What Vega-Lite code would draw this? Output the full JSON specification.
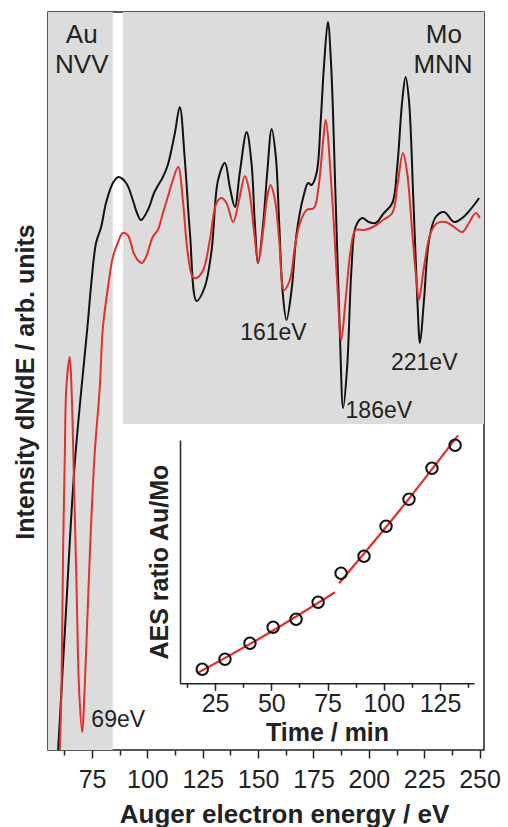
{
  "$schema": "https://vega.github.io/schema/vega-lite/v6.json",
  "width": 436,
  "height": 738,
  "autosize": "none",
  "padding": {"left": 48, "top": 12, "right": 24, "bottom": 77},
  "config": {
    "view": {"stroke": "#222", "strokeWidth": 1.5},
    "font": "Liberation Sans"
  },
  "datasets": {
    "regions": [
      {"e": 55.1, "e2": 84.35, "v": 0, "v2": 738},
      {"e": 88.9, "e2": 252, "v": 326, "v2": 738}
    ],
    "black": [
      {"e":59.6,"v":-3},{"e":63.0,"v":130},{"e":67.2,"v":287},{"e":73.2,"v":430},{"e":74.5,"v":463},{"e":76.8,"v":507},{"e":79.1,"v":523},{"e":81.3,"v":547},{"e":84.4,"v":567},{"e":86.9,"v":573},{"e":90.4,"v":567},{"e":93.4,"v":550},{"e":95.3,"v":537},{"e":97.1,"v":530},{"e":100.2,"v":540},{"e":103.2,"v":558},{"e":107.0,"v":573},{"e":109.2,"v":585},{"e":112.4,"v":617},{"e":114.6,"v":643},{"e":116.9,"v":590},{"e":119.2,"v":517},{"e":122.2,"v":449},{"e":125.9,"v":463},{"e":129.0,"v":500},{"e":131.9,"v":570},{"e":135.0,"v":587},{"e":137.2,"v":563},{"e":139.5,"v":543},{"e":141.7,"v":577},{"e":144.8,"v":618},{"e":147.0,"v":587},{"e":148.5,"v":527},{"e":150.0,"v":487},{"e":152.3,"v":527},{"e":154.1,"v":577},{"e":156.1,"v":621},{"e":158.0,"v":593},{"e":159.5,"v":527},{"e":161.0,"v":460},{"e":162.8,"v":430},{"e":165.1,"v":460},{"e":167.4,"v":517},{"e":170.4,"v":553},{"e":172.6,"v":567},{"e":174.1,"v":565},{"e":176.4,"v":577},{"e":178.2,"v":627},{"e":179.7,"v":683},{"e":181.5,"v":728},{"e":183.0,"v":683},{"e":185.0,"v":550},{"e":186.9,"v":417},{"e":188.4,"v":342},{"e":190.2,"v":383},{"e":192.2,"v":483},{"e":194.0,"v":523},{"e":197.0,"v":532},{"e":200.0,"v":528},{"e":203.1,"v":527},{"e":206.8,"v":537},{"e":210.6,"v":547},{"e":212.8,"v":583},{"e":215.1,"v":650},{"e":216.6,"v":673},{"e":218.1,"v":650},{"e":220.1,"v":550},{"e":221.9,"v":450},{"e":223.1,"v":407},{"e":224.9,"v":450},{"e":227.2,"v":510},{"e":230.2,"v":533},{"e":234.0,"v":538},{"e":238.5,"v":528},{"e":242.2,"v":532},{"e":244.5,"v":537},{"e":247.5,"v":545},{"e":249.8,"v":552}
    ],
    "red": [
      {"e":60.4,"v":-3},{"e":61.2,"v":63},{"e":61.9,"v":197},{"e":62.7,"v":297},{"e":63.4,"v":363},{"e":64.9,"v":393},{"e":65.7,"v":363},{"e":66.9,"v":263},{"e":68.0,"v":163},{"e":69.1,"v":63},{"e":70.5,"v":18},{"e":71.7,"v":63},{"e":74.0,"v":197},{"e":76.2,"v":297},{"e":78.5,"v":363},{"e":79.8,"v":420},{"e":82.2,"v":463},{"e":84.4,"v":493},{"e":86.6,"v":507},{"e":88.9,"v":517},{"e":91.1,"v":515},{"e":93.8,"v":497},{"e":95.6,"v":490},{"e":97.5,"v":487},{"e":99.4,"v":493},{"e":102.4,"v":513},{"e":104.7,"v":520},{"e":107.0,"v":537},{"e":109.2,"v":553},{"e":111.5,"v":570},{"e":113.9,"v":583},{"e":116.0,"v":550},{"e":118.2,"v":497},{"e":120.5,"v":473},{"e":122.2,"v":472},{"e":125.2,"v":480},{"e":128.2,"v":510},{"e":131.2,"v":547},{"e":133.5,"v":552},{"e":135.7,"v":547},{"e":138.7,"v":528},{"e":141.4,"v":550},{"e":144.0,"v":574},{"e":145.9,"v":560},{"e":148.1,"v":520},{"e":150.0,"v":488},{"e":152.3,"v":520},{"e":154.1,"v":553},{"e":155.6,"v":565},{"e":157.6,"v":550},{"e":159.5,"v":510},{"e":161.7,"v":460},{"e":164.3,"v":470},{"e":166.6,"v":503},{"e":168.9,"v":527},{"e":171.9,"v":540},{"e":175.2,"v":542},{"e":177.1,"v":560},{"e":179.4,"v":610},{"e":180.5,"v":630},{"e":183.5,"v":550},{"e":185.7,"v":467},{"e":187.5,"v":410},{"e":189.5,"v":450},{"e":191.8,"v":500},{"e":194.0,"v":520},{"e":197.8,"v":520},{"e":201.9,"v":523},{"e":206.4,"v":530},{"e":210.6,"v":537},{"e":212.8,"v":563},{"e":215.4,"v":597},{"e":217.3,"v":577},{"e":219.6,"v":517},{"e":221.6,"v":467},{"e":222.6,"v":450},{"e":224.9,"v":483},{"e":227.9,"v":517},{"e":230.9,"v":527},{"e":234.7,"v":528},{"e":238.5,"v":523},{"e":242.2,"v":518},{"e":245.2,"v":527},{"e":248.3,"v":537},{"e":250.1,"v":532}
    ],
    "regionLabels": [
      {"label": "Au", "e": 70.35, "v": 707},
      {"label": "NVV", "e": 70.35, "v": 677},
      {"label": "Mo", "e": 233.9, "v": 707},
      {"label": "MNN", "e": 233.5, "v": 677}
    ],
    "peakLabels": [
      {"label": "161eV", "e": 156.9, "v": 410},
      {"label": "186eV", "e": 204.5, "v": 332},
      {"label": "221eV", "e": 225.0, "v": 380},
      {"label": "69eV", "e": 86.8, "v": 23}
    ],
    "ratio": [
      {"t": 19.3, "r": 14}, {"t": 29.4, "r": 24}, {"t": 40.5, "r": 40}, {"t": 50.8, "r": 56},
      {"t": 61.0, "r": 64}, {"t": 70.8, "r": 81}, {"t": 81.0, "r": 110}, {"t": 91.2, "r": 127},
      {"t": 101.0, "r": 157}, {"t": 111.2, "r": 184}, {"t": 121.4, "r": 215}, {"t": 131.7, "r": 238}
    ],
    "fit": [
      {"t": 17, "r": 10, "seg": "a"}, {"t": 48, "r": 49, "seg": "a"}, {"t": 78.3, "r": 91, "seg": "a"},
      {"t": 80.1, "r": 100, "seg": "b"}, {"t": 106, "r": 170, "seg": "b"}, {"t": 133, "r": 248, "seg": "b"}
    ]
  },
  "layer": [
    {
      "layer": [
        {
          "data": {"name": "regions"},
          "mark": {"type": "rect", "color": "#dcdcdc"},
          "encoding": {
            "x": {
              "field": "e", "type": "quantitative",
              "title": "Auger electron energy / eV",
              "scale": {"domain": [55.1, 252], "nice": false, "zero": false},
              "axis": {
                "title": "Auger electron energy / eV",
                "values": [75, 100, 125, 150, 175, 200, 225, 250],
                "domain": false, "grid": false,
                "tickColor": "#222", "tickWidth": 1.5, "tickSize": 8,
                "labelFontSize": 25, "labelColor": "#222", "labelBaseline": "alphabetic",
                "labelPadding": 29, "labelOverlap": false, "labelFlush": false,
                "titleFontSize": 26, "titleFontWeight": "bold", "titleColor": "#222",
                "titleX": 236, "titleY": 72, "titleBaseline": "alphabetic", "titleAlign": "center"
              }
            },
            "x2": {"field": "e2"},
            "y": {
              "field": "v", "type": "quantitative",
              "title": "Intensity dN/dE / arb. units",
              "scale": {"domain": [0, 738], "nice": false, "zero": false},
              "axis": {
                "title": "Intensity dN/dE / arb. units",
                "labels": false, "ticks": false, "domain": false, "grid": false,
                "titleFontSize": 25, "titleFontWeight": "bold", "titleColor": "#222",
                "titleX": -15, "titleY": 369.5, "titleAngle": -90,
                "titleBaseline": "alphabetic", "titleAlign": "center"
              }
            },
            "y2": {"field": "v2"}
          }
        },
        {
          "data": {"name": "black"},
          "mark": {"type": "line", "color": "#111", "strokeWidth": 2, "interpolate": "catmull-rom", "clip": true},
          "encoding": {
            "x": {"field": "e", "type": "quantitative", "title": "Auger electron energy / eV"},
            "y": {"field": "v", "type": "quantitative", "title": "Intensity dN/dE / arb. units"}
          }
        },
        {
          "data": {"name": "red"},
          "mark": {"type": "line", "color": "#e0312b", "strokeWidth": 2, "interpolate": "catmull-rom", "clip": true},
          "encoding": {
            "x": {"field": "e", "type": "quantitative", "title": "Auger electron energy / eV"},
            "y": {"field": "v", "type": "quantitative", "title": "Intensity dN/dE / arb. units"}
          }
        },
        {
          "data": {"name": "regionLabels"},
          "mark": {"type": "text", "fontSize": 26, "color": "#222", "align": "center", "baseline": "alphabetic"},
          "encoding": {
            "x": {"field": "e", "type": "quantitative", "title": "Auger electron energy / eV"},
            "y": {"field": "v", "type": "quantitative", "title": "Intensity dN/dE / arb. units"},
            "text": {"field": "label"}
          }
        },
        {
          "data": {"name": "peakLabels"},
          "mark": {"type": "text", "fontSize": 23, "color": "#222", "align": "center", "baseline": "alphabetic"},
          "encoding": {
            "x": {"field": "e", "type": "quantitative", "title": "Auger electron energy / eV"},
            "y": {"field": "v", "type": "quantitative", "title": "Intensity dN/dE / arb. units"},
            "text": {"field": "label"}
          }
        }
      ]
    },
    {
      "layer": [
        {
          "data": {"name": "fit"},
          "mark": {"type": "line", "color": "#e0312b", "strokeWidth": 2.2, "interpolate": "monotone"},
          "encoding": {
            "x": {
              "field": "t", "type": "quantitative",
              "title": "Time / min",
              "scale": {"domain": [9.4, 140.1], "range": [132, 426], "nice": false, "zero": false},
              "axis": {
                "orient": "bottom", "offset": -66.7,
                "title": "Time / min",
                "values": [12.5, 25, 37.5, 50, 62.5, 75, 87.5, 100, 112.5, 125, 137.5],
                "labelExpr": "datum.value % 25 === 0 ? datum.label : ''",
                "domain": true, "domainColor": "#222", "domainWidth": 1.5, "grid": false,
                "tickColor": "#222", "tickWidth": 1.5,
                "tickSize": {"condition": {"test": "datum.value % 25 !== 0", "value": 4}, "value": 7},
                "labelFontSize": 25, "labelColor": "#222", "labelBaseline": "alphabetic",
                "labelPadding": 21, "labelOverlap": false, "labelFlush": false,
                "titleFontSize": 25, "titleFontWeight": "bold", "titleColor": "#222",
                "titleY": 57, "titleBaseline": "alphabetic", "titleAlign": "center"
              }
            },
            "y": {
              "field": "r", "type": "quantitative",
              "title": "AES ratio Au/Mo",
              "scale": {"domain": [0, 243.3], "range": [671.3, 428], "nice": false, "zero": false},
              "axis": {
                "orient": "left", "offset": -132,
                "title": "AES ratio Au/Mo",
                "labels": false, "ticks": false, "grid": false,
                "domain": true, "domainColor": "#222", "domainWidth": 1.5,
                "titleFontSize": 25, "titleFontWeight": "bold", "titleColor": "#222",
                "titleX": -13, "titleAngle": -90, "titleBaseline": "alphabetic", "titleAlign": "center"
              }
            },
            "detail": {"field": "seg"}
          }
        },
        {
          "data": {"name": "ratio"},
          "mark": {"type": "point", "shape": "circle", "filled": false, "color": "#111", "strokeWidth": 2, "size": 130, "opacity": 1},
          "encoding": {
            "x": {"field": "t", "type": "quantitative", "title": "Time / min"},
            "y": {"field": "r", "type": "quantitative", "title": "AES ratio Au/Mo"}
          }
        }
      ]
    },
    {
      "data": {"name": "regions"},
      "mark": {"type": "point", "opacity": 0},
      "encoding": {
        "x": {
          "field": "e", "type": "quantitative",
          "scale": {"domain": [55.1, 252], "range": [0, 436], "nice": false, "zero": false},
          "axis": {
            "orient": "bottom", "title": null, "labels": false, "domain": false, "grid": false,
            "values": [62.5, 87.5, 112.5, 137.5, 162.5, 187.5, 212.5, 237.5],
            "tickSize": 5, "tickColor": "#222", "tickWidth": 1.5
          }
        },
        "y": {
          "field": "v", "type": "quantitative",
          "scale": {"domain": [0, 738], "nice": false, "zero": false},
          "axis": null
        }
      }
    }
  ],
  "resolve": {
    "scale": {"x": "independent", "y": "independent"},
    "axis": {"x": "independent", "y": "independent"}
  }
}
